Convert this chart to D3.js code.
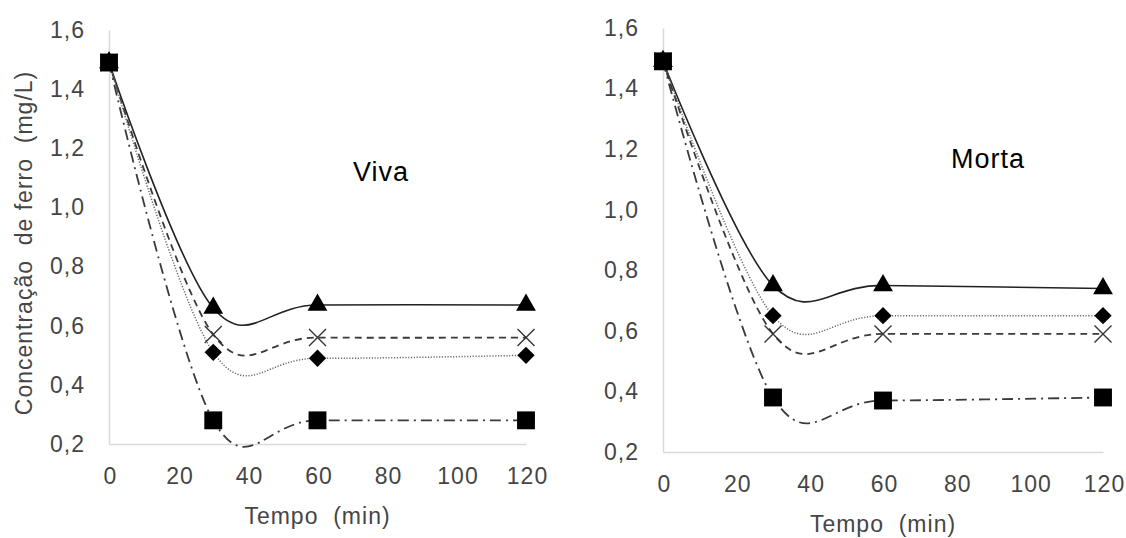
<!DOCTYPE html>
<html>
<head>
<meta charset="utf-8">
<script src="https://cdn.jsdelivr.net/npm/d3@7.9.0/dist/d3.min.js"></script>
<style>
  body { margin: 0; background: #fff; }
  svg { display: block; font-family: 'Liberation Sans', Arial, sans-serif; }
  .tick text { fill: #454545; font-size: 23px; letter-spacing: 1px; }
  .domain { stroke: #d9d9d9; stroke-width: 1.5; }
</style>
</head>
<body>
<svg id="chart" width="1126" height="538"></svg>
<script>
const times = [0, 30, 60, 120];
const xTicks = [0, 20, 40, 60, 80, 100, 120];
const yTicks = [0.2, 0.4, 0.6, 0.8, 1.0, 1.2, 1.4, 1.6];

// Viva
const vivaTriangle = [1.49, 0.66, 0.67, 0.67];
const vivaCross = [1.49, 0.57, 0.56, 0.56];
const vivaDiamond = [1.49, 0.51, 0.49, 0.50];
const vivaSquare = [1.49, 0.28, 0.28, 0.28];

// Morta
const mortaTriangle = [1.49, 0.75, 0.75, 0.74];
const mortaDiamond = [1.49, 0.65, 0.65, 0.65];
const mortaCross = [1.49, 0.59, 0.59, 0.59];
const mortaSquare = [1.49, 0.38, 0.37, 0.38];

const styles = {
  triangle: { stroke: '#222', width: 1.6, dash: null },
  cross: { stroke: '#3a3a3a', width: 1.8, dash: '7,5' },
  diamond: { stroke: '#6a6a6a', width: 1.5, dash: '1.2,1.6' },
  square: { stroke: '#3a3a3a', width: 1.8, dash: '11,5,2,5' },
};

const panels = [
  {
    label: 'Viva', labelPos: [381, 181],
    x: [109, 526], y: [444, 30], yTitle: true,
    series: [
      { marker: 'triangle', values: vivaTriangle },
      { marker: 'cross', values: vivaCross },
      { marker: 'diamond', values: vivaDiamond },
      { marker: 'square', values: vivaSquare },
    ],
  },
  {
    label: 'Morta', labelPos: [988, 168],
    x: [663, 1103], y: [452, 28], yTitle: false,
    series: [
      { marker: 'triangle', values: mortaTriangle },
      { marker: 'diamond', values: mortaDiamond },
      { marker: 'cross', values: mortaCross },
      { marker: 'square', values: mortaSquare },
    ],
  },
];

const svg = d3.select('#chart');
const fmt = (d) => d3.format('.1f')(d).replace('.', ',');

function drawMarker(g, type, cx, cy) {
  if (type === 'cross') {
    const h = 8.5;
    g.append('path')
      .attr('transform', `translate(${cx},${cy})`)
      .attr('d', `M${-h},${-h}L${h},${h}M${-h},${h}L${h},${-h}`)
      .attr('stroke', '#333')
      .attr('stroke-width', 1.4)
      .attr('fill', 'none');
    return;
  }
  let sym = d3.symbol();
  let rot = 0;
  if (type === 'triangle') sym = sym.type(d3.symbolTriangle).size(170);
  if (type === 'square') sym = sym.type(d3.symbolSquare).size(320);
  if (type === 'diamond') { sym = sym.type(d3.symbolSquare).size(150); rot = 45; }
  g.append('path')
    .attr('transform', `translate(${cx},${cy}) rotate(${rot})`)
    .attr('d', sym())
    .attr('fill', '#000');
}

panels.forEach((panel) => {
  const x = d3.scaleLinear().domain([0, 120]).range(panel.x);
  const y = d3.scaleLinear().domain([0.2, 1.6]).range(panel.y);

  svg.append('g')
    .attr('transform', `translate(0,${panel.y[0]})`)
    .call(d3.axisBottom(x).tickValues(xTicks).tickSize(0).tickSizeOuter(0).tickPadding(24))
    .call((g) => g.selectAll('.tick text').attr('dx', 1));

  svg.append('g')
    .attr('transform', `translate(${panel.x[0]},0)`)
    .call(d3.axisLeft(y).tickValues(yTicks).tickFormat(fmt).tickSize(0).tickSizeOuter(0).tickPadding(24));

  svg.selectAll('.tick line').remove();
  svg.selectAll('g').attr('font-family', null).attr('font-size', null);

  const line = d3.line()
    .x((d, i) => x(times[i]))
    .y((d) => y(d))
    .curve(d3.curveCardinal.tension(0));

  const plot = svg.append('g');
  panel.series.forEach((s) => {
    const st = styles[s.marker];
    plot.append('path')
      .attr('d', line(s.values))
      .attr('fill', 'none')
      .attr('stroke', st.stroke)
      .attr('stroke-width', st.width)
      .attr('stroke-dasharray', st.dash);
  });

  const marks = svg.append('g');
  panel.series.forEach((s) => {
    s.values.forEach((v, i) => drawMarker(marks, s.marker, x(times[i]), y(v)));
  });

  svg.append('text')
    .attr('x', (panel.x[0] + panel.x[1]) / 2)
    .attr('y', panel.y[0] + 80)
    .attr('text-anchor', 'middle')
    .attr('fill', '#454545')
    .attr('font-size', 23)
    .attr('letter-spacing', 1)
    .attr('xml:space', 'preserve')
    .text('Tempo  (min)');

  svg.append('text')
    .attr('x', panel.labelPos[0])
    .attr('y', panel.labelPos[1])
    .attr('text-anchor', 'middle')
    .attr('fill', '#000')
    .attr('font-size', 27)
    .attr('letter-spacing', 1)
    .text(panel.label);

  if (panel.yTitle) {
    svg.append('text')
      .attr('transform', `translate(32,243) rotate(-90)`)
      .attr('text-anchor', 'middle')
      .attr('fill', '#454545')
      .attr('font-size', 23)
      .attr('letter-spacing', 1)
      .attr('xml:space', 'preserve')
      .text('Concentração  de ferro  (mg/L)');
  }
});
</script>
</body>
</html>
